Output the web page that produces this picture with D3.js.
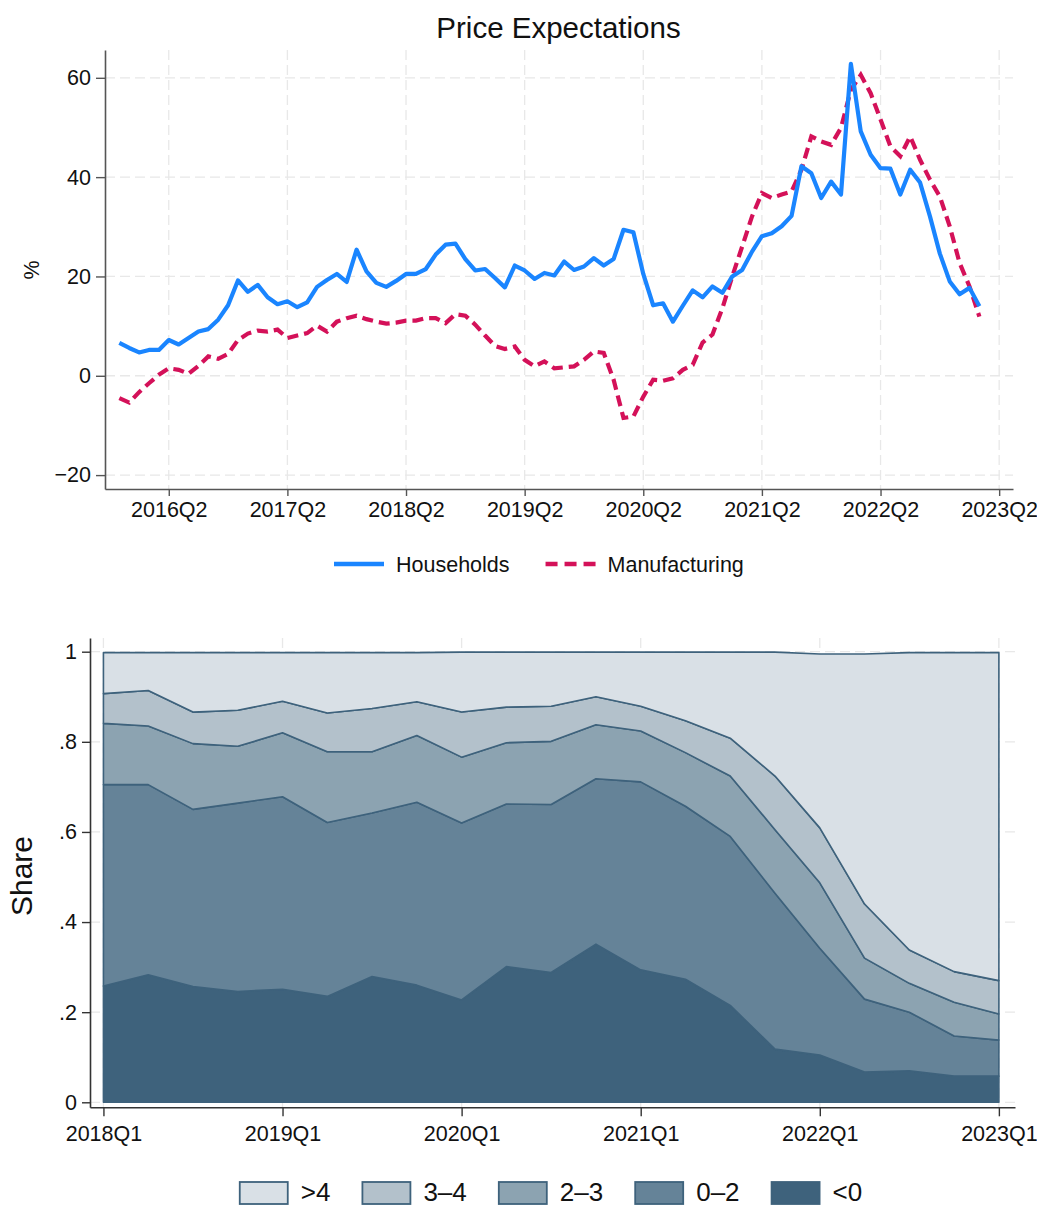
<!DOCTYPE html>
<meta charset="utf-8">
<style>
    body { margin: 0; background: #fff; }
    svg { display: block; font-family: "Liberation Sans", Arial, Helvetica, sans-serif; }
    .grid line { stroke: #e8e8e8; stroke-width: 1.3px; stroke-dasharray: 10,5; }
    .axis text { fill: #111; }
</style>
<svg width="1037" height="1207"></svg>
<script src="https://d3js.org/d3.v7.min.js"></script>
<script>
    // ---- top panel: monthly price expectations, first month Nov 2015 ----
    const firstMonth = {year: 2015, month: 11};
    const households = [6.6, 5.6, 4.7, 5.2, 5.2, 7.2, 6.3, 7.6, 8.9, 9.4, 11.3, 14.2, 19.2, 16.9, 18.3, 15.8,
        14.4, 15.0, 13.8, 14.8, 17.9, 19.3, 20.5, 18.9, 25.4, 21.0, 18.7, 17.9, 19.1, 20.5, 20.5, 21.5,
        24.4, 26.4, 26.6, 23.5, 21.2, 21.5, 19.7, 17.8, 22.2, 21.2, 19.5, 20.7, 20.2, 23.0, 21.3, 22.0,
        23.7, 22.2, 23.5, 29.4, 28.9, 20.5, 14.2, 14.6, 10.9, 14.1, 17.2, 15.8, 18.0, 16.7, 20.0, 21.3,
        25.0, 28.1, 28.7, 30.1, 32.2, 42.2, 40.8, 35.8, 39.1, 36.5, 62.8, 49.2, 44.5, 41.8, 41.7, 36.5,
        41.5, 38.9, 32.1, 24.6, 19.0, 16.4, 17.7, 14.0];
    const manufacturing = [-4.5, -5.4, -3.3, -1.5, 0.2, 1.5, 1.2, 0.4, 2.0, 3.9, 3.4, 4.4, 7.2, 8.5, 9.1, 8.9,
        9.3, 7.6, 8.1, 8.6, 10.1, 8.9, 10.9, 11.6, 12.1, 11.4, 10.9, 10.5, 10.7, 11.1, 11.1, 11.6,
        11.6, 10.6, 12.4, 12.1, 10.3, 8.1, 6.0, 5.4, 5.9, 3.2, 1.9, 2.9, 1.5, 1.7, 1.9, 3.2,
        4.9, 4.6, -0.8, -8.5, -8.2, -4.2, -0.8, -1.0, -0.5, 1.2, 2.2, 6.7, 8.3, 13.6, 20.0, 26.0,
        32.1, 36.8, 35.8, 36.5, 37.1, 41.5, 48.2, 47.2, 46.5, 49.9, 57.6, 60.6, 56.9, 51.6, 46.2, 44.2,
        48.2, 43.5, 39.5, 36.1, 30.1, 22.7, 18.0, 11.9];
    const topXTicks = ["2016Q2", "2017Q2", "2018Q2", "2019Q2", "2020Q2", "2021Q2", "2022Q2", "2023Q2"];
    const topYTicks = [-20, 0, 20, 40, 60];

    // ---- bottom panel: quarterly shares by expectation bin ----
    const quarters = ["2018Q1", "2018Q2", "2018Q3", "2018Q4", "2019Q1", "2019Q2", "2019Q3", "2019Q4",
        "2020Q1", "2020Q2", "2020Q3", "2020Q4", "2021Q1", "2021Q2", "2021Q3", "2021Q4",
        "2022Q1", "2022Q2", "2022Q3", "2022Q4", "2023Q1"];
    const shareLt0 = [.258, .283, .257, .246, .251, .235, .279, .260, .227, .301, .288, .351, .294, .273,
        .215, .118, .105, .067, .070, .058, .058];
    const share0to2 = [.447, .422, .393, .418, .427, .386, .363, .406, .393, .361, .373, .367, .417, .384,
        .375, .346, .237, .162, .130, .089, .080];
    const share2to3 = [.136, .130, .146, .126, .142, .157, .136, .148, .146, .136, .140, .120, .113, .119,
        .134, .141, .145, .091, .064, .075, .058];
    const share3to4 = [.066, .079, .070, .080, .070, .086, .096, .075, .100, .079, .078, .062, .055, .071,
        .084, .119, .122, .120, .074, .068, .074];
    const shareGt4 = [.091, .084, .132, .128, .108, .134, .124, .109, .133, .122, .120, .099, .120, .152,
        .191, .275, .386, .555, .660, .708, .728];
    const binLabels = [">4", "3\u20134", "2\u20133", "0\u20132", "<0"];
    const bottomXTicks = ["2018Q1", "2019Q1", "2020Q1", "2021Q1", "2022Q1", "2023Q1"];
    const bottomYTicks = [0, .2, .4, .6, .8, 1];

    let svg = d3.select("svg");
    svg.append("rect").attr("width", 1037).attr("height", 1207).attr("fill", "#fff");

    // month index relative to the first observation
    function qToMonth(label) {
        let yr = +label.slice(0, 4), q = +label.slice(5);
        return (yr * 12 + (q - 1) * 3) - (firstMonth.year * 12 + firstMonth.month - 1);
    }

    //////////////// top chart
    let x1 = d3.scaleLinear().domain([-1.45, 90.4]).range([105, 1013]);
    let y1 = d3.scaleLinear().domain([-22.8, 65.6]).range([489, 50]);

    let g1 = svg.append("g");

    let grid1 = g1.append("g").attr("class", "grid");
    grid1.selectAll(".h").data(topYTicks).enter().append("line")
        .attr("x1", 105).attr("x2", 1013)
        .attr("y1", d => y1(d)).attr("y2", d => y1(d));
    grid1.selectAll(".v").data(topXTicks).enter().append("line")
        .attr("x1", d => x1(qToMonth(d))).attr("x2", d => x1(qToMonth(d)))
        .attr("y1", 50).attr("y2", 489);

    let line1 = d3.line().x((d, i) => x1(i)).y(d => y1(d));

    g1.append("path").datum(manufacturing)
        .attr("d", line1)
        .attr("fill", "none")
        .attr("stroke", "#d41159")
        .attr("stroke-width", 4.2)
        .attr("stroke-dasharray", "11,6");

    g1.append("path").datum(households)
        .attr("d", line1)
        .attr("fill", "none")
        .attr("stroke", "#1a85ff")
        .attr("stroke-width", 4.2)
        .attr("stroke-linejoin", "round");

    let yAxis1 = g1.append("g").attr("class", "axis")
        .attr("transform", "translate(105,0)")
        .call(d3.axisLeft(y1).tickValues(topYTicks).tickSize(9).tickPadding(5).tickSizeOuter(0)
            .tickFormat(d => d < 0 ? "\u2212" + Math.abs(d) : d));
    let xAxis1 = g1.append("g").attr("class", "axis")
        .attr("transform", "translate(0,489)")
        .call(d3.axisBottom(x1).tickValues(topXTicks.map(qToMonth)).tickSize(7).tickPadding(6).tickSizeOuter(0)
            .tickFormat((d, i) => topXTicks[i]));
    [yAxis1, xAxis1].forEach(a => {
        a.selectAll("text").attr("font-size", "21.5px").attr("font-family", null);
        a.select(".domain").attr("stroke", "#555").attr("stroke-width", 1.6);
        a.selectAll(".tick line").attr("stroke", "#555").attr("stroke-width", 1.4);
    });

    svg.append("text").attr("x", 558.5).attr("y", 38)
        .attr("text-anchor", "middle").attr("font-size", "29.5px").attr("fill", "#111")
        .text("Price Expectations");

    svg.append("text").attr("transform", "translate(31,270) rotate(-90)")
        .attr("text-anchor", "middle").attr("dy", "0.35em").attr("font-size", "21.5px").attr("fill", "#111")
        .text("%");

    // legend (top)
    let leg1 = svg.append("g");
    let lx = 334;
    [{name: "Households", color: "#1a85ff", dash: null},
     {name: "Manufacturing", color: "#d41159", dash: "12,7"}].forEach(s => {
        leg1.append("line").attr("x1", lx).attr("x2", lx + 50).attr("y1", 564).attr("y2", 564)
            .attr("stroke", s.color).attr("stroke-width", 4.5).attr("stroke-dasharray", s.dash);
        let t = leg1.append("text").attr("x", lx + 62).attr("y", 571.7)
            .attr("font-size", "21.5px").attr("fill", "#111").text(s.name);
        lx = lx + 62 + t.node().getComputedTextLength() + 36;
    });

    //////////////// bottom chart
    let x2 = d3.scaleLinear().domain([-0.3, 20.36]).range([90, 1015]);
    let y2 = d3.scaleLinear().domain([-0.0111, 1.0304]).range([1107.3, 638]);

    let g2 = svg.append("g");
    let grid2 = g2.append("g").attr("class", "grid");
    grid2.selectAll(".h").data(bottomYTicks).enter().append("line")
        .attr("x1", 90).attr("x2", 1015)
        .attr("y1", d => y2(d)).attr("y2", d => y2(d));
    grid2.selectAll(".v").data(bottomXTicks).enter().append("line")
        .attr("x1", d => x2(quarters.indexOf(d))).attr("x2", d => x2(quarters.indexOf(d)))
        .attr("y1", 638).attr("y2", 1107.3);

    let table = quarters.map((q, i) => ({
        lt0: shareLt0[i], b02: share0to2[i], b23: share2to3[i], b34: share3to4[i], gt4: shareGt4[i]
    }));
    let keys = ["lt0", "b02", "b23", "b34", "gt4"];
    let fills = {lt0: "#3e627c", b02: "#658398", b23: "#8ca3b1", b34: "#b3c1cb", gt4: "#d9e0e6"};
    let stacked = d3.stack().keys(keys)(table);

    let area2 = d3.area()
        .x((d, i) => x2(i))
        .y0(d => y2(d[0]))
        .y1(d => y2(d[1]));

    g2.selectAll(".layer").data(stacked).enter().append("path")
        .attr("d", area2)
        .attr("fill", d => fills[d.key])
        .attr("stroke", "#3e627c")
        .attr("stroke-width", 1.6)
        .attr("stroke-linejoin", "round");

    let yAxis2 = g2.append("g").attr("class", "axis")
        .attr("transform", "translate(90,0)")
        .call(d3.axisLeft(y2).tickValues(bottomYTicks).tickSize(8).tickPadding(5).tickSizeOuter(0)
            .tickFormat(d => d === 0 ? "0" : d === 1 ? "1" : String(d).replace(/^0/, "")));
    let xAxis2 = g2.append("g").attr("class", "axis")
        .attr("transform", "translate(0,1107.3)")
        .call(d3.axisBottom(x2).tickValues(bottomXTicks.map(d => quarters.indexOf(d))).tickSize(9).tickPadding(9)
            .tickSizeOuter(0).tickFormat((d, i) => bottomXTicks[i]));
    [yAxis2, xAxis2].forEach(a => {
        a.selectAll("text").attr("font-size", "21.5px").attr("font-family", null);
        a.select(".domain").attr("stroke", "#333").attr("stroke-width", 1.6);
        a.selectAll(".tick line").attr("stroke", "#333").attr("stroke-width", 1.4);
    });

    svg.append("text").attr("transform", "translate(21,876) rotate(-90)")
        .attr("text-anchor", "middle").attr("dy", "0.35em").attr("font-size", "30px").attr("fill", "#111")
        .text("Share");

    // legend (bottom), centred under the plot
    let leg2 = svg.append("g");
    let legKeys = ["gt4", "b34", "b23", "b02", "lt0"];
    let bx = 0;
    legKeys.forEach((k, i) => {
        let item = leg2.append("g").attr("transform", "translate(" + bx + ",0)");
        item.append("rect").attr("x", 0).attr("y", 1182).attr("width", 48).attr("height", 22)
            .attr("fill", fills[k]).attr("stroke", "#3e627c").attr("stroke-width", 1.8);
        let t = item.append("text").attr("x", 61).attr("y", 1200.5)
            .attr("font-size", "26px").attr("fill", "#111").text(binLabels[i]);
        bx += 61 + t.node().getComputedTextLength() + 32;
    });
    let legWidth = bx - 32;
    leg2.attr("transform", "translate(" + (551 - legWidth / 2) + ",0)");
</script>
<body>
</body>
